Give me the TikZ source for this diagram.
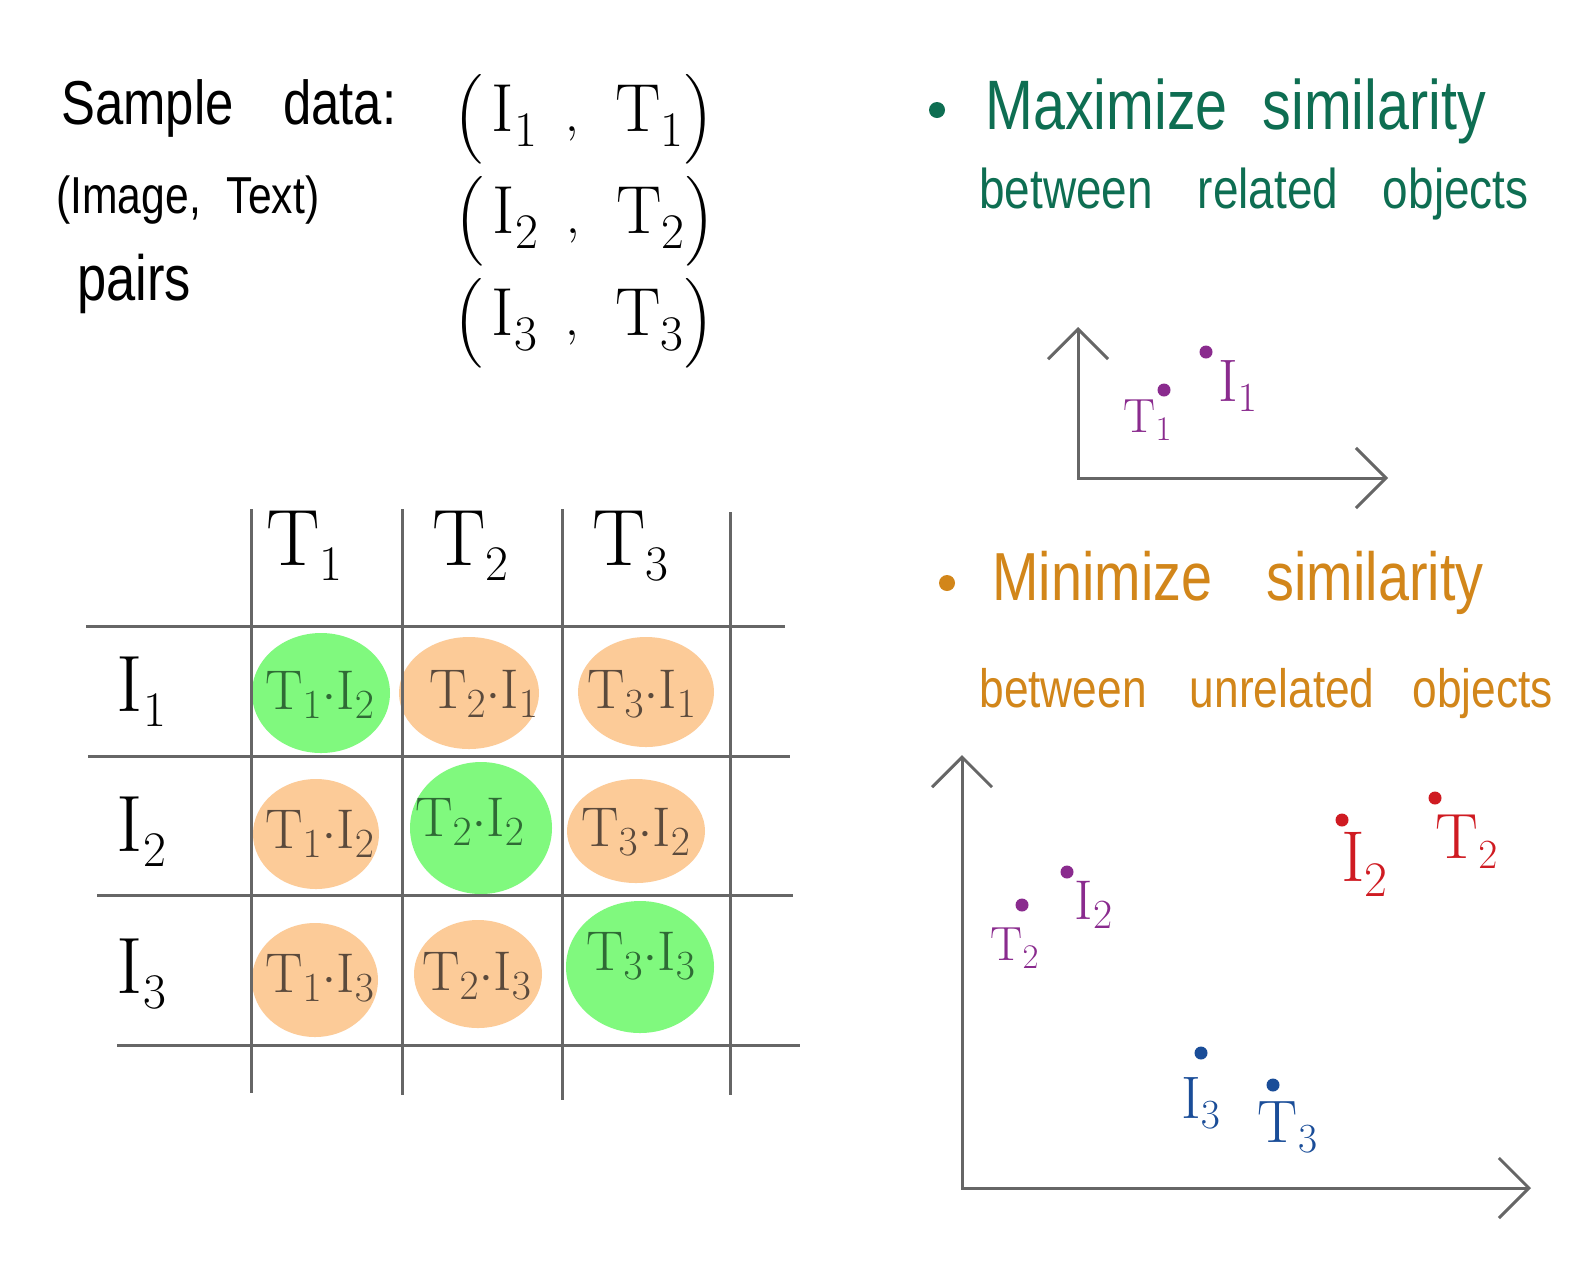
\documentclass[tikz,border=0pt]{standalone}
\usepackage{fontspec}
\usepackage{amsmath}
\usetikzlibrary{arrows.meta}
\newfontfamily\handfont{Liberation Sans}[FakeStretch=0.82]
\newcommand\handsize[1]{\handfont\fontsize{#1}{#1}\selectfont\spaceskip 0.5em plus 0.2em\relax}

\definecolor{gridgray}{HTML}{666666}
\definecolor{maxgreen}{HTML}{0E6E52}
\definecolor{minorange}{HTML}{D2861A}
\definecolor{blobgreen}{HTML}{80F97E}
\definecolor{blobpeach}{HTML}{FCCB98}
\definecolor{ptpurple}{HTML}{8A2B8E}
\definecolor{ptred}{HTML}{CF1B22}
\definecolor{ptblue}{HTML}{1A4D98}
\definecolor{inkgreen}{HTML}{2F6B35}
\definecolor{inkbrown}{HTML}{5B4A3C}

\begin{document}
\begin{tikzpicture}[x=0.5pt,y=-0.5pt,
  hand/.style={font=\handsize{#1},anchor=base west,inner sep=0pt},
  sym/.style={font=\fontsize{#1}{#1}\selectfont,inner sep=0pt},
  gridline/.style={gridgray,line width=1.5pt},
  axisline/.style={gridgray,line width=1.5pt,
    {Straight Barb[length=15pt,width=30pt]}-{Straight Barb[length=15pt,width=30pt]}},
  dot/.style={circle,fill=#1,inner sep=0pt,minimum size=6.5pt}]
  \useasboundingbox[fill=white] (0,0) rectangle (1595,1287);

  % Sample data
  \node[hand=31] (sample) at (61,124) {Sample\hspace{0.3em} data:};
  \node[hand=26] (pairtype) at (56,213) {(Image, Text)};
  \node[hand=32] (pairs) at (77,300) {pairs};
  \node[sym=34] (pair1) at (584,119) {$\Bigl(\,\mathrm{I}_1\;\;,\;\;\mathrm{T}_1\Bigr)$};
  \node[sym=34] (pair2) at (585,221) {$\Bigl(\,\mathrm{I}_2\;\;,\;\;\mathrm{T}_2\Bigr)$};
  \node[sym=34] (pair3) at (584,323) {$\Bigl(\,\mathrm{I}_3\;\;,\;\;\mathrm{T}_3\Bigr)$};

  % Blobs in the 3x3 grid
  \foreach \cx/\cy/\rx/\ry/\col in {321/693/69/60/blobgreen, 469/693/70/56/blobpeach,
      646/692/68/55/blobpeach, 316/834/63/55/blobpeach, 481/828/71/66/blobgreen,
      636/831/69/52/blobpeach, 315/980/63/57/blobpeach, 478/974/64/54/blobpeach,
      640/967/74/66/blobgreen} {
    \fill[\col] (\cx,\cy) ellipse [x radius=\rx, y radius=\ry];
  }

  % Draw grid
  \foreach \x/\ya/\yb in {251/509/1093, 402/509/1095, 562/509/1100, 730/512/1095} {
    \draw[gridline] (\x,\ya) -- (\x,\yb);
  }
  \foreach \y/\xa/\xb in {626/86/785, 756/88/790, 895/97/793, 1045/117/800} {
    \draw[gridline] (\xa,\y) -- (\xb,\y);
  }

  % Headers
  \foreach \n/\x in {1/305, 2/471, 3/631} {
    \node[sym=40] (colT\n) at (\x,546) {$\mathrm{T}_\n$};
  }
  \foreach \n/\y in {1/692, 2/832, 3/974} {
    \node[sym=40] (rowI\n) at (142,\y) {$\mathrm{I}_\n$};
  }

  % Dot products
  \foreach \nm/\x/\y/\t/\i/\ink in {c11/320/695/1/2/inkgreen, c12/484/694/2/1/inkbrown,
      c13/642/694/3/1/inkbrown, c21/320/834/1/2/inkbrown, c22/470/822/2/2/inkgreen,
      c23/636/832/3/2/inkbrown, c31/320/978/1/3/inkbrown, c32/477/976/2/3/inkbrown,
      c33/641/956/3/3/inkgreen} {
    \node[sym=28,text=\ink] (\nm) at (\x,\y) {$\mathrm{T}_\t{\cdot}\mathrm{I}_\i$};
  }

  % Maximize
  \fill[maxgreen] (937,110) circle (8);
  \node[hand=35,text=maxgreen] (maxtitle) at (985,129) {Maximize similarity};
  \node[hand=28,text=maxgreen] (maxsub) at (979,208) {between\hspace{0.3em} related\hspace{0.3em} objects};

  \coordinate (ya) at (1078,327);
  \coordinate (oa) at (1078,478);
  \coordinate (xa) at (1388,478);
  \draw[axisline] (ya) -- (oa) -- (xa);

  \node[dot=ptpurple] (dotIa) at (1206,352) {};
  \node[sym=30,text=ptpurple] (labIa) at (1238,386) {$\mathrm{I}_1$};
  \node[dot=ptpurple] (dotTa) at (1164,390) {};
  \node[sym=24,text=ptpurple] (labTa) at (1148,420) {$\mathrm{T}_1$};

  % Minimize
  \fill[minorange] (947,583) circle (8);
  \node[hand=34,text=minorange] (mintitle) at (992,600) {Minimize\hspace{0.3em} similarity};
  \node[hand=27,text=minorange] (minsub) at (979,707) {between\hspace{0.3em} unrelated\hspace{0.2em} objects};

  \coordinate (yb) at (962,755);
  \coordinate (ob) at (962,1188);
  \coordinate (xb) at (1531,1188);
  \draw[axisline] (yb) -- (ob) -- (xb);

  \node[dot=ptpurple] (dotTb) at (1022,905) {};
  \node[sym=24,text=ptpurple] (labTb) at (1015,948) {$\mathrm{T}_2$};
  \node[dot=ptpurple] (dotIb) at (1067,872) {};
  \node[sym=28,text=ptpurple] (labIb) at (1094,905) {$\mathrm{I}_2$};

  \node[dot=ptred] (dotIc) at (1342,820) {};
  \node[sym=36,text=ptred] (labIc) at (1365,864) {$\mathrm{I}_2$};
  \node[dot=ptred] (dotTc) at (1435,798) {};
  \node[sym=32,text=ptred] (labTc) at (1467,842) {$\mathrm{T}_2$};

  \node[dot=ptblue] (dotId) at (1201,1053) {};
  \node[sym=30,text=ptblue] (labId) at (1201,1103) {$\mathrm{I}_3$};
  \node[dot=ptblue] (dotTd) at (1273,1085) {};
  \node[sym=30,text=ptblue] (labTd) at (1288,1127) {$\mathrm{T}_3$};
\end{tikzpicture}
\end{document}
